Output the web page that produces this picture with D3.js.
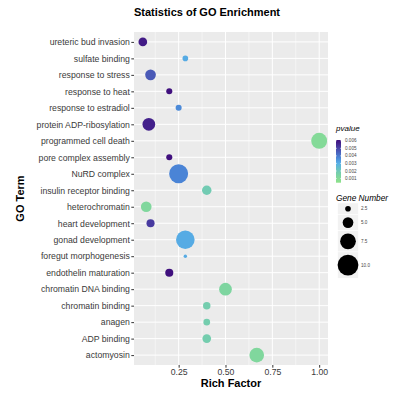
<!DOCTYPE html>
<html>
<head>
<meta charset="utf-8">
<script src="https://cdn.jsdelivr.net/npm/d3@7"></script>
<style>
  body { margin: 0; background: #fff; }
  text { font-family: 'Liberation Sans', Arial, sans-serif; }
</style>
</head>
<body>
<svg width="400" height="396"></svg>
<script>
// GO terms, top to bottom
const terms = ['ureteric bud invasion', 'sulfate binding', 'response to stress', 'response to heat',
  'response to estradiol', 'protein ADP-ribosylation', 'programmed cell death', 'pore complex assembly',
  'NuRD complex', 'insulin receptor binding', 'heterochromatin', 'heart development', 'gonad development',
  'foregut morphogenesis', 'endothelin maturation', 'chromatin DNA binding', 'chromatin binding',
  'anagen', 'ADP binding', 'actomyosin']
const richFactor = [0.0588, 0.2857, 0.1, 0.2, 0.25, 0.0909, 1.0, 0.2, 0.25, 0.4,
  0.0769, 0.1, 0.2857, 0.2857, 0.2, 0.5, 0.4, 0.4, 0.4, 0.6667]
const geneNumber = [4, 2.5, 5, 2.7, 2.7, 6, 7.6, 2.7, 9.1, 4.4,
  5, 3.7, 8.9, 1.4, 3.7, 6, 3.4, 3, 4, 7]
const pvalue = [0.0058, 0.0031, 0.0046, 0.0060, 0.0037, 0.0057, 0.0010, 0.0060, 0.0038, 0.0019,
  0.0012, 0.0052, 0.0031, 0.0031, 0.0060, 0.0013, 0.0018, 0.0018, 0.0018, 0.0012]

const xTicks = [0.25, 0.5, 0.75, 1.0]
const xMinor = [0.125, 0.375, 0.625, 0.875]
const pTicks = [0.001, 0.002, 0.003, 0.004, 0.005, 0.006]
const sizeTicks = [2.5, 5.0, 7.5, 10.0]
const colorStops = [0.0005, 0.0018, 0.003, 0.0038, 0.005, 0.006]
const colorList = ['#8ee28a', '#74cdae', '#58b0e6', '#4a84d6', '#4a45a8', '#40107e']

const svg = d3.select('svg')
const panel = { left: 134, right: 328, top: 32, bottom: 365 }

const data = terms.map((t, i) => ({ term: t, rf: richFactor[i], n: geneNumber[i], p: pvalue[i] }))

// ggplot style 5% expansion
const ext = d3.extent(richFactor)
const pad = (ext[1] - ext[0]) * 0.05
const x = d3.scaleLinear().domain([ext[0] - pad, ext[1] + pad]).range([panel.left, panel.right])
const y = d3.scalePoint().domain(terms).range([panel.top, panel.bottom]).padding(0.6)
const r = d3.scaleLinear().domain([0, 10]).range([0.3, 10.4])
const color = d3.scaleLinear().domain(colorStops).range(colorList).clamp(true)

// panel
svg.append('rect')
  .attr('x', panel.left).attr('y', panel.top)
  .attr('width', panel.right - panel.left).attr('height', panel.bottom - panel.top)
  .attr('fill', '#ebebeb')

const grid = svg.append('g')
grid.selectAll('.minor').data(xMinor).join('line')
  .attr('x1', d => x(d)).attr('x2', d => x(d))
  .attr('y1', panel.top).attr('y2', panel.bottom)
  .attr('stroke', '#fff').attr('stroke-width', 0.5)
grid.selectAll('.vmaj').data(xTicks).join('line')
  .attr('x1', d => x(d)).attr('x2', d => x(d))
  .attr('y1', panel.top).attr('y2', panel.bottom)
  .attr('stroke', '#fff').attr('stroke-width', 1)
grid.selectAll('.hmaj').data(terms).join('line')
  .attr('x1', panel.left).attr('x2', panel.right)
  .attr('y1', d => y(d)).attr('y2', d => y(d))
  .attr('stroke', '#fff').attr('stroke-width', 1)

// axes
const xAxis = svg.append('g')
  .attr('transform', `translate(0,${panel.bottom})`)
  .call(d3.axisBottom(x).tickValues(xTicks).tickFormat(d3.format('.2f')).tickSize(2.7).tickPadding(1.5))
const yAxis = svg.append('g')
  .attr('transform', `translate(${panel.left},0)`)
  .call(d3.axisLeft(y).tickSize(2.7).tickPadding(1.5))
for (const ax of [xAxis, yAxis]) {
  ax.select('.domain').remove()
  ax.selectAll('line').attr('stroke', '#333')
  ax.selectAll('text').attr('fill', '#3a3a3a').attr('font-size', 8.7)
    .attr('font-family', "'Liberation Sans', Arial, sans-serif")
}

// points
svg.append('g').selectAll('circle').data(data).join('circle')
  .attr('cx', d => x(d.rf))
  .attr('cy', d => y(d.term))
  .attr('r', d => r(d.n))
  .attr('fill', d => color(d.p))

// titles
svg.append('text').attr('x', 207).attr('y', 15.5).attr('text-anchor', 'middle')
  .attr('font-size', 11).attr('font-weight', 'bold').text('Statistics of GO Enrichment')
svg.append('text').attr('x', (panel.left + panel.right) / 2).attr('y', 386.5).attr('text-anchor', 'middle')
  .attr('font-size', 11).attr('font-weight', 'bold').text('Rich Factor')
svg.append('text')
  .attr('transform', `translate(24,${(panel.top + panel.bottom) / 2}) rotate(-90)`)
  .attr('text-anchor', 'middle')
  .attr('font-size', 11).attr('font-weight', 'bold').text('GO Term')

// pvalue colour bar
const bar = { x: 336, w: 5, top: 140, bottom: 182.7 }
const pScale = d3.scaleLinear().domain([0.00045, 0.0061]).range([bar.bottom, bar.top])
const grad = svg.append('defs').append('linearGradient')
  .attr('id', 'pgrad').attr('x1', 0).attr('y1', 1).attr('x2', 0).attr('y2', 0)
d3.range(0, 1.0001, 0.05).forEach(t => {
  const pv = pScale.domain()[0] + t * (pScale.domain()[1] - pScale.domain()[0])
  grad.append('stop').attr('offset', t).attr('stop-color', color(pv))
})
svg.append('text').attr('x', 336).attr('y', 130.5)
  .attr('font-size', 8).attr('font-style', 'italic').text('pvalue')
svg.append('rect').attr('x', bar.x).attr('y', bar.top)
  .attr('width', bar.w).attr('height', bar.bottom - bar.top).attr('fill', 'url(#pgrad)')
const pLeg = svg.append('g')
pLeg.selectAll('line.l').data(pTicks).join('line')
  .attr('x1', bar.x).attr('x2', bar.x + 1)
  .attr('y1', d => pScale(d)).attr('y2', d => pScale(d))
  .attr('stroke', '#fff').attr('stroke-width', 0.5)
pLeg.selectAll('line.r').data(pTicks).join('line')
  .attr('x1', bar.x + bar.w - 1).attr('x2', bar.x + bar.w)
  .attr('y1', d => pScale(d)).attr('y2', d => pScale(d))
  .attr('stroke', '#fff').attr('stroke-width', 0.5)
pLeg.selectAll('text').data(pTicks).join('text')
  .attr('x', 345).attr('y', d => pScale(d) + 1.6)
  .attr('font-size', 4.6).attr('fill', '#444')
  .text(d => d3.format('.3f')(d))

// gene number legend
svg.append('text').attr('x', 336).attr('y', 200.7)
  .attr('font-size', 8.3).attr('font-style', 'italic').text('Gene Number')
const keyTop = 203
const keyH = sizeTicks.map(d => Math.max(11.5, 2 * r(d) + 5.5))
const keyY = keyH.map((h, i) => keyTop + d3.sum(keyH.slice(0, i)))
const sLeg = svg.append('g')
sLeg.selectAll('rect').data(sizeTicks).join('rect')
  .attr('x', 337.7).attr('y', (d, i) => keyY[i])
  .attr('width', 20.6).attr('height', (d, i) => keyH[i])
  .attr('fill', '#f2f2f2').attr('stroke', '#fff').attr('stroke-width', 0.5)
sLeg.selectAll('circle').data(sizeTicks).join('circle')
  .attr('cx', 348).attr('cy', (d, i) => keyY[i] + keyH[i] / 2)
  .attr('r', d => r(d)).attr('fill', '#000')
sLeg.selectAll('text').data(sizeTicks).join('text')
  .attr('x', 361).attr('y', (d, i) => keyY[i] + keyH[i] / 2 + 1.6)
  .attr('font-size', 4.6).attr('fill', '#444')
  .text(d => d3.format('.1f')(d))
</script>
</body>
</html>
